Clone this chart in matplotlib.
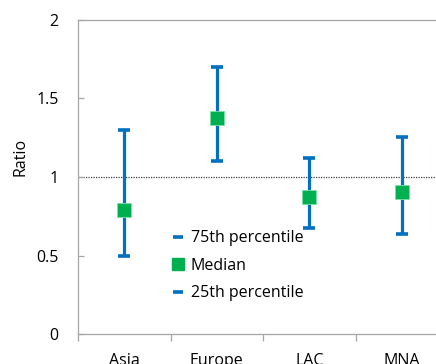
import matplotlib
matplotlib.use("Agg")
import matplotlib.pyplot as plt
from matplotlib.lines import Line2D
import numpy as np

categories = ["Asia", "Europe", "LAC", "MNA"]
p75 = [1.30, 1.70, 1.12, 1.255]
median = [0.79, 1.375, 0.873, 0.905]
p25 = [0.50, 1.10, 0.675, 0.637]
yticks = [0, 0.5, 1, 1.5, 2]
ytick_labels = ["0", "0.5", "1", "1.5", "2"]

BLUE = "#0070C0"
GREEN = "#00B050"
GRAY = "#A6A6A6"

plt.rcParams['font.family'] = ['Open Sans', 'DejaVu Sans']

W, H = 436, 364
fig = plt.figure(figsize=(W / 100, H / 100), dpi=100)
left, right, bottom, top = 78, 448, 334, 20
ax = fig.add_axes([left / W, 1 - bottom / H, (right - left) / W, (bottom - top) / H])

x = np.arange(len(categories))
ax.vlines(x, p25, p75, colors=BLUE, linewidth=2.3, zorder=2)
ax.plot(x, p75, linestyle="none", marker="_", ms=9, mew=2.6, color=BLUE, zorder=3)
ax.plot(x, p25, linestyle="none", marker="_", ms=9, mew=2.6, color=BLUE, zorder=3)
ax.plot(x, median, linestyle="none", marker="s", ms=10.5, color=GREEN,
        markeredgecolor="#7FE0A8", mew=0.6, zorder=4)
ax.axhline(1, color="#404040", linestyle=(0, (1, 1)), linewidth=0.9, zorder=1)

ax.set_xlim(-0.5, len(categories) - 0.5)
ax.set_ylim(0, 2)
ax.set_yticks(yticks)
ax.set_yticklabels(ytick_labels)
ax.set_xticks(x)
ax.set_xticklabels(categories)
ax.set_xticks(np.arange(-0.5, len(categories), 1.0), minor=True)
ax.tick_params(axis="x", which="major", length=0, pad=14, labelsize=11.5, colors="#000000")
ax.tick_params(axis="x", which="minor", length=5, direction="out", color=GRAY, width=0.9)
ax.tick_params(axis="y", length=4, direction="in", color=GRAY, width=0.9, labelsize=11.5, pad=14)
for s in ax.spines.values():
    s.set_color(GRAY)
    s.set_linewidth(0.9)
ax.spines["right"].set_visible(False)
ax.set_ylabel("Ratio", fontsize=11.5)
ax.yaxis.set_label_coords(-0.135, 0.564)

handles = [
    Line2D([], [], linestyle="none", marker="_", ms=7, mew=2.6, color=BLUE),
    Line2D([], [], linestyle="none", marker="s", ms=8, color=GREEN),
    Line2D([], [], linestyle="none", marker="_", ms=7, mew=2.6, color=BLUE),
]
labels = ["75th percentile", "Median", "25th percentile"]
ax.legend(handles, labels, loc="upper left", bbox_to_anchor=(0.257, 0.33),
          frameon=False, fontsize=11.5, handlelength=0.6, handletextpad=0.5,
          labelspacing=0.72, borderpad=0, borderaxespad=0)

fig.savefig("out.png", dpi=100)
